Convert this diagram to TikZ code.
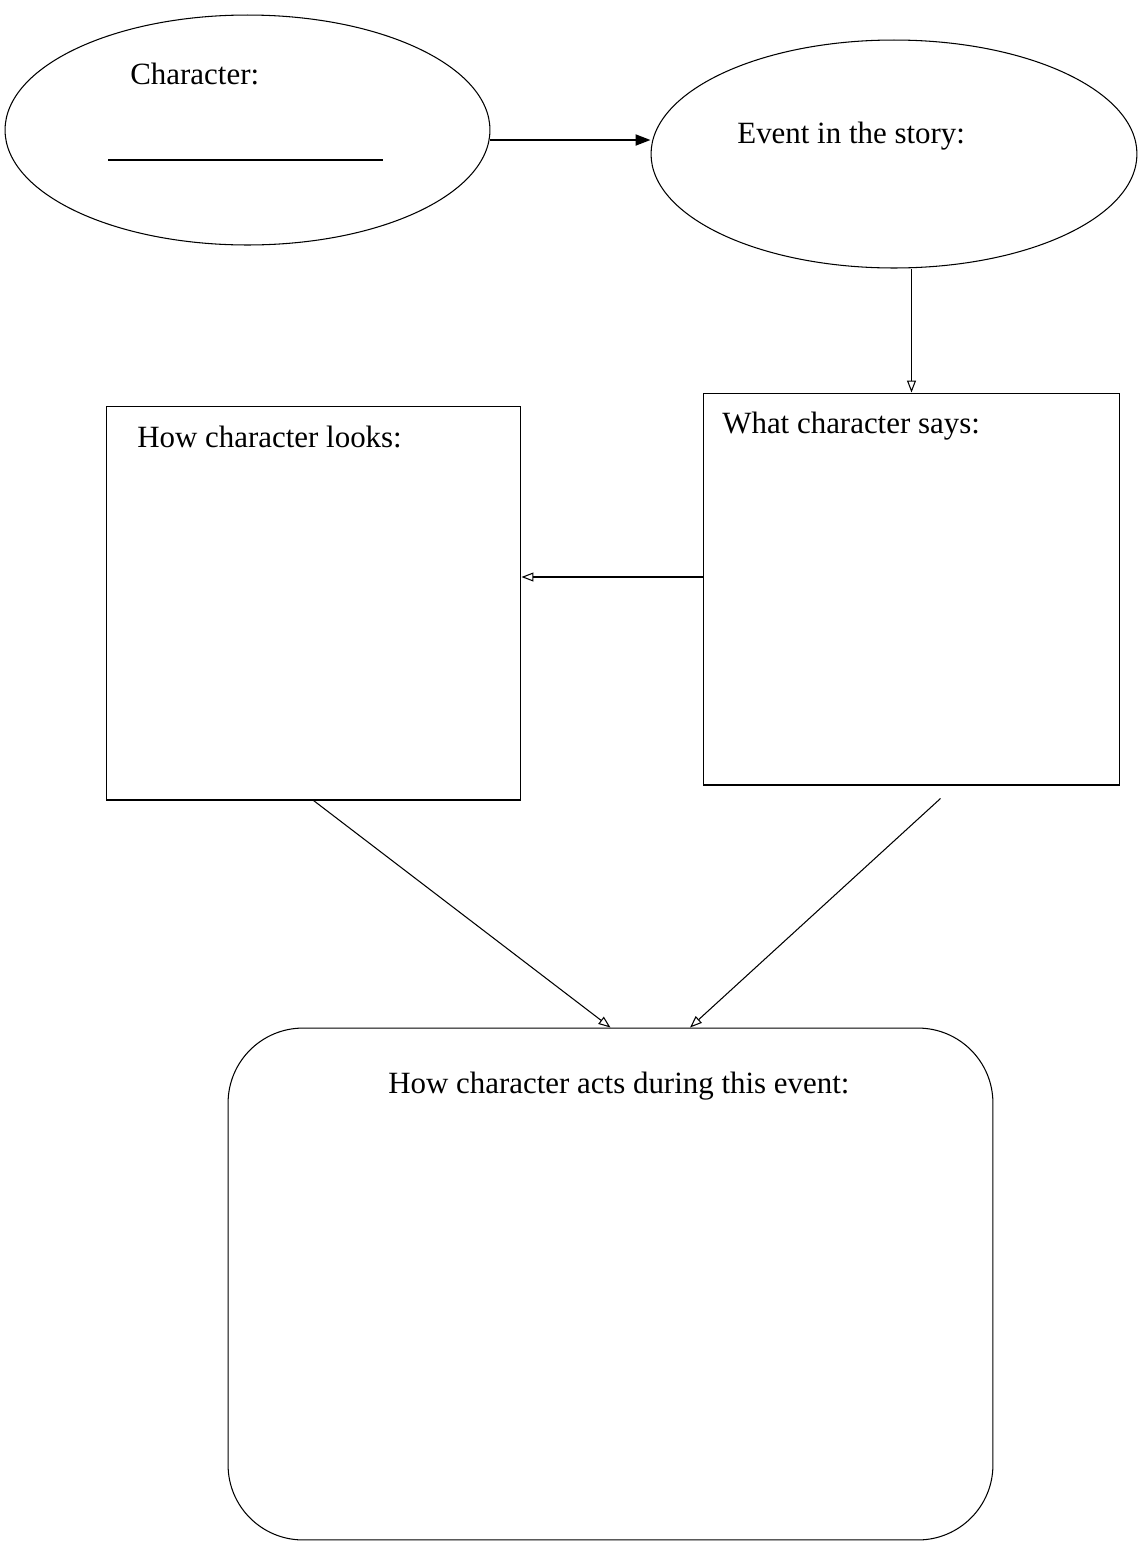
\documentclass[tikz,border=0pt]{standalone}
\usepackage{fontspec}
\setmainfont{Liberation Serif}
\usetikzlibrary{shapes.geometric,arrows.meta}

\begin{document}
\begin{tikzpicture}[x=0.02cm,y=-0.02cm,
    bubble/.style={draw, ellipse, line width=0.6pt, inner sep=0pt},
    panel/.style={draw, rectangle, line width=0.6pt, inner sep=0pt},
    txt/.style={anchor=base west, inner sep=0pt, font=\fontsize{17.6}{20}\selectfont},
    fatarrow/.style={line width=1.1pt, -{Triangle[length=0.3cm,width=0.22cm]}},
    thinarrow/.style={line width=0.6pt, -{Triangle[open,length=0.24cm,width=0.18cm]}}]
    \useasboundingbox (0,0) rectangle (1144,1542);

    % top: character and event
    \node[bubble, minimum width=9.7cm, minimum height=4.6cm] (char) at (247.5,130) {};
    \node[txt] (charTxt) at (130,84) {Character:};
    \draw[line width=0.6pt] (108,160) -- (383,160);
    \node[bubble, minimum width=9.72cm, minimum height=4.56cm] (event) at (894,154) {};
    \node[txt] (eventTxt) at (737,143) {Event in the story:};

    % middle: looks and says
    \node[panel, minimum width=8.3cm, minimum height=7.88cm] (looks) at (313.5,603) {};
    \node[txt] (looksTxt) at (137,447) {How character looks:};
    \node[panel, minimum width=8.34cm, minimum height=7.84cm] (says) at (911.5,589) {};
    \node[txt] (saysTxt) at (722,433) {What character says:};

    % bottom: acts
    \node[panel, rounded corners=1.5cm, minimum width=15.3cm, minimum height=10.24cm] (acts) at (610.5,1284) {};
    \node[txt] (actsTxt) at (388,1093) {How character acts during this event:};

    % connectors
    \coordinate (topLevel) at (0,140);
    \coordinate (midLevel) at (0,577);
    \draw[fatarrow] (char.east |- topLevel) -- (event.west |- topLevel);
    \draw[thinarrow] (says.north |- event.south) -- (says.north);
    \draw[thinarrow] (says.west |- midLevel) -- (looks.east |- midLevel);
    \draw[thinarrow] (looks.south) -- (acts.north);
    \draw[thinarrow] ([xshift=0.58cm,yshift=-0.26cm]says.south) -- ([xshift=1.59cm]acts.north);

\end{tikzpicture}
\end{document}
